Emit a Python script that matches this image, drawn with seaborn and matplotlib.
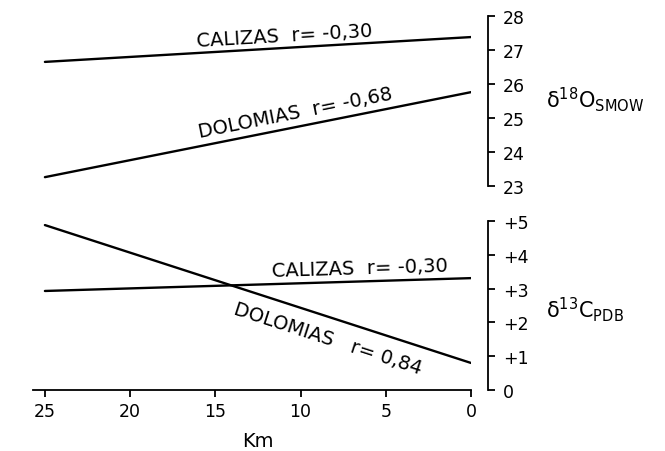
import numpy as np
import pandas as pd
import matplotlib
matplotlib.use('Agg')
import matplotlib.pyplot as plt
import seaborn as sns

# ---- data ----
km = [25, 0]
o18_calizas = [26.65, 27.38]
o18_dolomias = [23.26, 25.76]
c13_calizas = [2.93, 3.31]
c13_dolomias = [4.88, 0.80]

o18_ticks = [23, 24, 25, 26, 27, 28]
o18_ticklabels = ['23', '24', '25', '26', '27', '28']
c13_ticks = [0, 1, 2, 3, 4, 5]
c13_ticklabels = ['0', '+1', '+2', '+3', '+4', '+5']
km_ticks = [25, 20, 15, 10, 5, 0]
km_ticklabels = ['25', '20', '15', '10', '5', '0']

sns.set_theme(style='white')
plt.rcParams['font.family'] = ['DejaVu Sans']
plt.rcParams['mathtext.fontset'] = 'dejavusans'
plt.rcParams['text.color'] = 'black'
plt.rcParams['axes.labelcolor'] = 'black'
plt.rcParams['xtick.color'] = 'black'
plt.rcParams['ytick.color'] = 'black'

fig = plt.figure(figsize=(6.65, 4.52), dpi=100)
ax1 = fig.add_axes([0.0496, 0.5863, 0.6586, 0.3761])
ax2 = fig.add_axes([0.0496, 0.1350, 0.6586, 0.3738])

top = pd.DataFrame({'km': km, 'cal': o18_calizas, 'dol': o18_dolomias})
bot = pd.DataFrame({'km': km, 'cal': c13_calizas, 'dol': c13_dolomias})

lw = 1.7
sns.lineplot(data=top, x='km', y='cal', ax=ax1, color='black', linewidth=lw)
sns.lineplot(data=top, x='km', y='dol', ax=ax1, color='black', linewidth=lw)
sns.lineplot(data=bot, x='km', y='cal', ax=ax2, color='black', linewidth=lw)
sns.lineplot(data=bot, x='km', y='dol', ax=ax2, color='black', linewidth=lw)

for ax in (ax1, ax2):
    ax.set_xlim(25.7, 0)
    ax.set_facecolor('white')
    ax.set_xlabel('')
    ax.set_ylabel('')
    for s in ('top', 'left'):
        ax.spines[s].set_visible(False)
    ax.spines['right'].set_position(('outward', 12.2))
    ax.spines['right'].set_color('black')
    ax.spines['right'].set_linewidth(1.3)
    ax.yaxis.tick_right()
    ax.tick_params(axis='y', which='both', right=True, left=False, direction='out',
                   length=5, width=1.3, color='black', pad=6, labelsize=12.5,
                   labelcolor='black')

ax1.spines['bottom'].set_visible(False)
ax1.set_ylim(23, 28)
ax1.set_yticks(o18_ticks)
ax1.set_yticklabels(o18_ticklabels)
ax1.set_xticks([])

ax2.set_ylim(0, 5)
ax2.set_yticks(c13_ticks)
ax2.set_yticklabels(c13_ticklabels)
ax2.spines['bottom'].set_color('black')
ax2.spines['bottom'].set_linewidth(1.3)
ax2.set_xticks(km_ticks)
ax2.set_xticklabels(km_ticklabels)
ax2.tick_params(axis='x', bottom=True, direction='out', length=5, width=1.3,
                color='black', pad=4, labelsize=12.5, labelcolor='black')

fig.canvas.draw()

def angle(ax, ys):
    p = ax.transData.transform(np.column_stack([km, ys]))
    d = p[1] - p[0]
    return np.degrees(np.arctan2(d[1], d[0]))

fs = 14
ax1.text(16.1, 27.12, 'CALIZAS  r= -0,30', rotation=angle(ax1, o18_calizas),
         rotation_mode='anchor', ha='left', va='baseline', fontsize=fs)
ax1.text(15.9, 24.44, 'DOLOMIAS  r= -0,68', rotation=angle(ax1, o18_dolomias),
         rotation_mode='anchor', ha='left', va='baseline', fontsize=fs)
ax2.text(11.7, 3.37, 'CALIZAS  r= -0,30', rotation=angle(ax2, c13_calizas),
         rotation_mode='anchor', ha='left', va='baseline', fontsize=fs)
ax2.text(13.7, 2.69, 'DOLOMIAS   r= 0,84', rotation=angle(ax2, c13_dolomias),
         rotation_mode='anchor', ha='left', va='top', fontsize=fs)

fig.text(546 / 665, 1 - 100 / 452, 'δ$^{18}$O$_{\\mathrm{SMOW}}$',
         ha='left', va='center', fontsize=15)
fig.text(546 / 665, 1 - 310 / 452, 'δ$^{13}$C$_{\\mathrm{PDB}}$',
         ha='left', va='center', fontsize=15)
fig.text(258 / 665, 1 - 442 / 452, 'Km', ha='center', va='center', fontsize=14)

fig.savefig('out.png', dpi=100, facecolor='white')
